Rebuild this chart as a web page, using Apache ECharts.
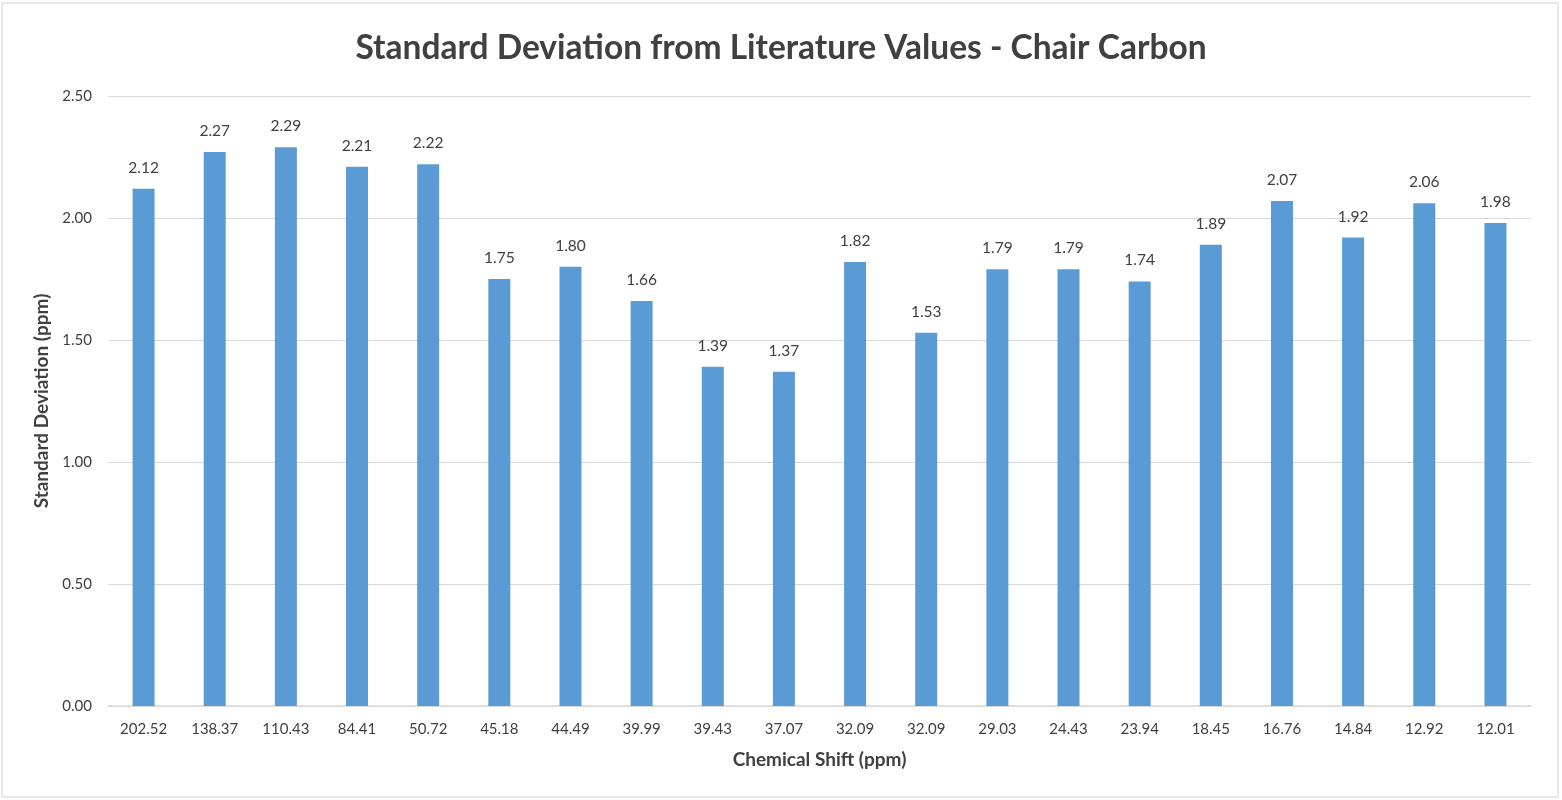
<!DOCTYPE html>
<html><head><meta charset="utf-8">
<script src="https://cdn.jsdelivr.net/npm/echarts@6/dist/echarts.min.js"></script>
<style>html,body{margin:0;padding:0;background:#fff}#c{width:1562px;height:800px}</style>
</head><body><div id="c"></div>
<script>
const categories = ["202.52","138.37","110.43","84.41","50.72","45.18","44.49","39.99","39.43","37.07","32.09","32.09","29.03","24.43","23.94","18.45","16.76","14.84","12.92","12.01"];
const values = [2.12,2.27,2.29,2.21,2.22,1.75,1.80,1.66,1.39,1.37,1.82,1.53,1.79,1.79,1.74,1.89,2.07,1.92,2.06,1.98];
const yTicks = [0, 0.5, 1.0, 1.5, 2.0, 2.5];
const FONT = 'Lato, "Open Sans", sans-serif';
const chart = echarts.init(document.getElementById('c'), null, {renderer:'canvas'});
chart.setOption({
  animation:false,
  backgroundColor:'#fff',
  textStyle:{fontFamily:FONT},
  title:{text:'Standard Deviation from Literature Values - Chair Carbon', left:'center', top:26,
    textStyle:{fontFamily:FONT, fontSize:33.5, fontWeight:'bold', color:'#404040'}},
  graphic:[{type:'rect', shape:{x:2,y:3,width:1556,height:794}, style:{fill:'none', stroke:'#d0d0d0', lineWidth:1}, silent:true}],
  grid:{left:108, right:31, top:96, bottom:94},
  xAxis:{type:'category', data:categories, name:'Chemical Shift (ppm)', nameLocation:'middle', nameGap:44,
    nameTextStyle:{fontFamily:FONT, fontSize:19, fontWeight:'bold', color:'#404040'},
    axisLine:{lineStyle:{color:'#d9d9d9', width:1.5}}, axisTick:{show:false},
    axisLabel:{fontFamily:FONT, fontSize:15, color:'#404040', margin:16}},
  yAxis:{type:'value', min:yTicks[0], max:yTicks[yTicks.length-1], interval:0.5,
    name:'Standard Deviation (ppm)', nameLocation:'middle', nameGap:57,
    nameTextStyle:{fontFamily:FONT, fontSize:19, fontWeight:'bold', color:'#404040'},
    axisLine:{show:false}, axisTick:{show:false},
    axisLabel:{fontFamily:FONT, fontSize:15, color:'#404040', margin:16, formatter:v=>v.toFixed(2)},
    splitLine:{lineStyle:{color:'#d9d9d9', width:1}}},
  series:[{type:'bar', data:values, barWidth:22, itemStyle:{color:'#5B9BD5'},
    label:{show:true, position:'top', distance:13, fontFamily:FONT, fontSize:15.5, color:'#404040', formatter:p=>p.value.toFixed(2)}}]
});
</script></body></html>
